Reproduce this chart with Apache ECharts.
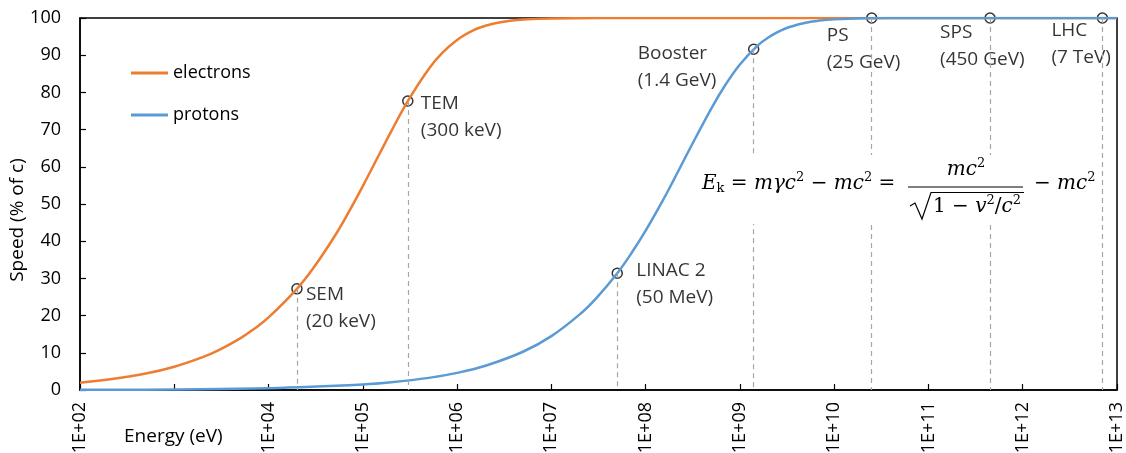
<!DOCTYPE html>
<html><head><meta charset="utf-8">
<script src="https://cdn.jsdelivr.net/npm/echarts@6/dist/echarts.min.js"></script>
<style>html,body{margin:0;padding:0;background:#fff}#c{width:1126px;height:453px}</style>
</head><body><div id="c"></div>
<script>
// ---- data ----
const electronEnergy = [1e2, 2e2, 5e2, 1e3, 2e3, 3e3, 5e3, 7e3, 1e4, 2e4, 3e4, 5e4, 7e4, 1e5, 1.5e5, 2e5, 3e5, 5e5, 7e5, 1e6, 1.5e6, 2e6, 3e6, 5e6, 1e7, 1e8, 1e9, 1e10, 1e11, 1e12, 1e13];
const electronSpeed  = [1.98, 2.80, 4.42, 6.25, 8.82, 10.79, 13.89, 16.38, 19.50, 27.19, 32.84, 41.27, 47.59, 54.82, 63.43, 69.53, 77.65, 86.29, 90.66, 94.11, 96.72, 97.91, 98.94, 99.57, 99.88, 100, 100, 100, 100, 100, 100];
const protonEnergy = [1e2, 1e3, 1e4, 1e5, 2e5, 5e5, 1e6, 2e6, 5e6, 1e7, 2e7, 3e7, 5e7, 7e7, 1e8, 1.5e8, 2e8, 3e8, 5e8, 7e8, 1e9, 1.5e9, 2e9, 3e9, 5e9, 7e9, 1e10, 2e10, 5e10, 1e11, 1e12, 1e13];
const protonSpeed  = [0.05, 0.15, 0.46, 1.46, 2.06, 3.26, 4.61, 6.52, 10.28, 14.48, 20.32, 24.70, 31.40, 36.61, 42.82, 50.66, 56.62, 65.26, 75.79, 81.98, 87.50, 92.30, 94.77, 97.12, 98.74, 99.30, 99.63, 99.90, 99.98, 100, 100, 100];

const annotNames  = ['SEM\n(20 keV)', 'TEM\n(300 keV)', 'LINAC 2\n(50 MeV)', 'Booster\n(1.4 GeV)', 'PS\n(25 GeV)', 'SPS\n(450 GeV)', 'LHC\n(7 TeV)'];
const annotEnergy = [2e4, 3e5, 5e7, 1.4e9, 2.5e10, 4.5e11, 7e12];
const annotSpeed  = [27.2, 77.7, 31.4, 91.6, 100, 100, 100];

const xTickLabels = ['1E+02', '', '1E+04', '1E+05', '1E+06', '1E+07', '1E+08', '1E+09', '1E+10', '1E+11', '1E+12', '1E+13'];
const yTickLabels = ['0', '10', '20', '30', '40', '50', '60', '70', '80', '90', '100'];

// ---- styles ----
const annotLabelOffset = [[9, 19.5], [13, 16.5], [19, 11], [-116, 18], [-45, 31], [-50, 28.5], [-51, 26.5]];
const FONT = 'Open Sans';
const EQF = 'DejaVu Serif';
const ORANGE = '#ED7D31', BLUE = '#5B9BD5';

const chart = echarts.init(document.getElementById('c'), null, { renderer: 'canvas' });

const eqRich = {
  i: { fontFamily: EQF, fontStyle: 'italic', fontSize: 20, color: '#000' },
  u: { fontFamily: EQF, fontSize: 20, color: '#000' },
  s: { fontFamily: EQF, fontSize: 13, color: '#000', padding: [0, 0, 13, 0] },
  k: { fontFamily: EQF, fontSize: 13, color: '#000', padding: [10, 0, 0, 0] }
};

chart.setOption({
  animation: false,
  backgroundColor: '#fff',
  textStyle: { fontFamily: FONT },
  grid: { left: 80, right: 9, top: 18, bottom: 63, show: true, borderColor: '#000', borderWidth: 1.5, outerBoundsMode: 'none' },
  legend: {
    data: [{ name: 'electrons', icon: 'rect' }, { name: 'protons', icon: 'rect' }],
    orient: 'vertical', left: 131, top: 64, padding: 0,
    itemWidth: 37, itemHeight: 3, itemGap: 24,
    textStyle: { fontFamily: FONT, fontSize: 18, color: '#000' }
  },
  xAxis: {
    type: 'log', logBase: 10, min: 1e2, max: 1e13, interval: 1,
    axisLine: { lineStyle: { color: '#000', width: 1.5 } },
    axisTick: { inside: true, length: 6, interval: 0, lineStyle: { color: '#000', width: 1.2 } },
    minorTick: { show: false },
    splitLine: { show: false },
    axisLabel: {
      rotate: 90, margin: 12, interval: 0, hideOverlap: false, fontFamily: FONT, fontSize: 18, color: '#000',
      formatter: v => { const t = xTickLabels[Math.round(Math.log10(v)) - 2]; return t === undefined ? '' : t; }
    }
  },
  yAxis: {
    type: 'value', min: 0, max: 100, interval: 10,
    name: 'Speed (% of c)', nameLocation: 'middle', nameGap: 53, nameRotate: 90, nameMoveOverlap: false,
    nameTextStyle: { fontFamily: FONT, fontSize: 19, color: '#000', padding: [0, 32, 0, 0] },
    axisLine: { show: true, lineStyle: { color: '#000', width: 1.5 } },
    axisTick: { show: true, inside: true, length: 6, lineStyle: { color: '#000', width: 1.2 } },
    splitLine: { show: false },
    axisLabel: { margin: 19, fontFamily: FONT, fontSize: 18, color: '#000', formatter: v => yTickLabels[Math.round(v / 10)] }
  },
  series: [
    {
      name: 'electrons', type: 'line', symbol: 'none', smooth: 0.4,
      lineStyle: { color: ORANGE, width: 2.5 }, itemStyle: { color: ORANGE },
      data: electronEnergy.map((e, i) => [e, electronSpeed[i]])
    },
    {
      name: 'protons', type: 'line', symbol: 'none', smooth: 0.4,
      lineStyle: { color: BLUE, width: 2.5 }, itemStyle: { color: BLUE },
      data: protonEnergy.map((e, i) => [e, protonSpeed[i]])
    },
    {
      name: 'points', type: 'scatter', symbol: 'circle', symbolSize: 10, clip: false,
      itemStyle: { color: 'rgba(255,255,255,0)', borderColor: '#000', borderWidth: 1.5 },
      label: {
        show: true, position: 'inside', align: 'left', verticalAlign: 'middle',
        formatter: '{b}', fontFamily: FONT, fontSize: 19, lineHeight: 27, color: '#000'
      },
      data: annotEnergy.map((e, i) => ({ name: annotNames[i], value: [e, annotSpeed[i]], label: { offset: annotLabelOffset[i] } })),
      markLine: {
        silent: true, symbol: ['none', 'none'], animation: false,
        label: { show: false },
        lineStyle: { type: [5, 4], color: '#a6a6a6', width: 1.2 },
        data: annotEnergy.map((e, i) => [{ coord: [e, annotSpeed[i]] }, { coord: [e, 0] }])
      }
    }
  ],
  graphic: [
    { type: 'text', x: 124, y: 437, style: { text: 'Energy (eV)', fontFamily: FONT, fontSize: 19, fill: '#000', align: 'left', verticalAlign: 'middle' } },
    { type: 'rect', z: 100, shape: { x: 700, y: 155, width: 398, height: 69 }, style: { fill: '#fff' } },
    { type: 'text', z: 101, x: 702, y: 184, style: { text: '{i|E}{k|k}{u| = }{i|mγc}{s|2}{u| − }{i|mc}{s|2}{u| =}', rich: eqRich, align: 'left', verticalAlign: 'middle' } },
    { type: 'text', z: 101, x: 966, y: 170, style: { text: '{i|mc}{s|2}', rich: eqRich, align: 'center', verticalAlign: 'middle' } },
    { type: 'line', z: 101, shape: { x1: 908, y1: 187, x2: 1023, y2: 187 }, style: { stroke: '#000', lineWidth: 1 } },
    { type: 'polyline', z: 101, shape: { points: [[910, 206], [915, 203], [922, 219], [931, 192.5], [1024, 192.5]] }, style: { stroke: '#000', lineWidth: 1.2, fill: null } },
    { type: 'text', z: 101, x: 933, y: 207, style: { text: '{u|1 − }{i|v}{s|2}{u|/}{i|c}{s|2}', rich: eqRich, align: 'left', verticalAlign: 'middle' } },
    { type: 'text', z: 101, x: 1034, y: 184, style: { text: '{u|− }{i|mc}{s|2}', rich: eqRich, align: 'left', verticalAlign: 'middle' } }
  ]
});
</script>
</body></html>
